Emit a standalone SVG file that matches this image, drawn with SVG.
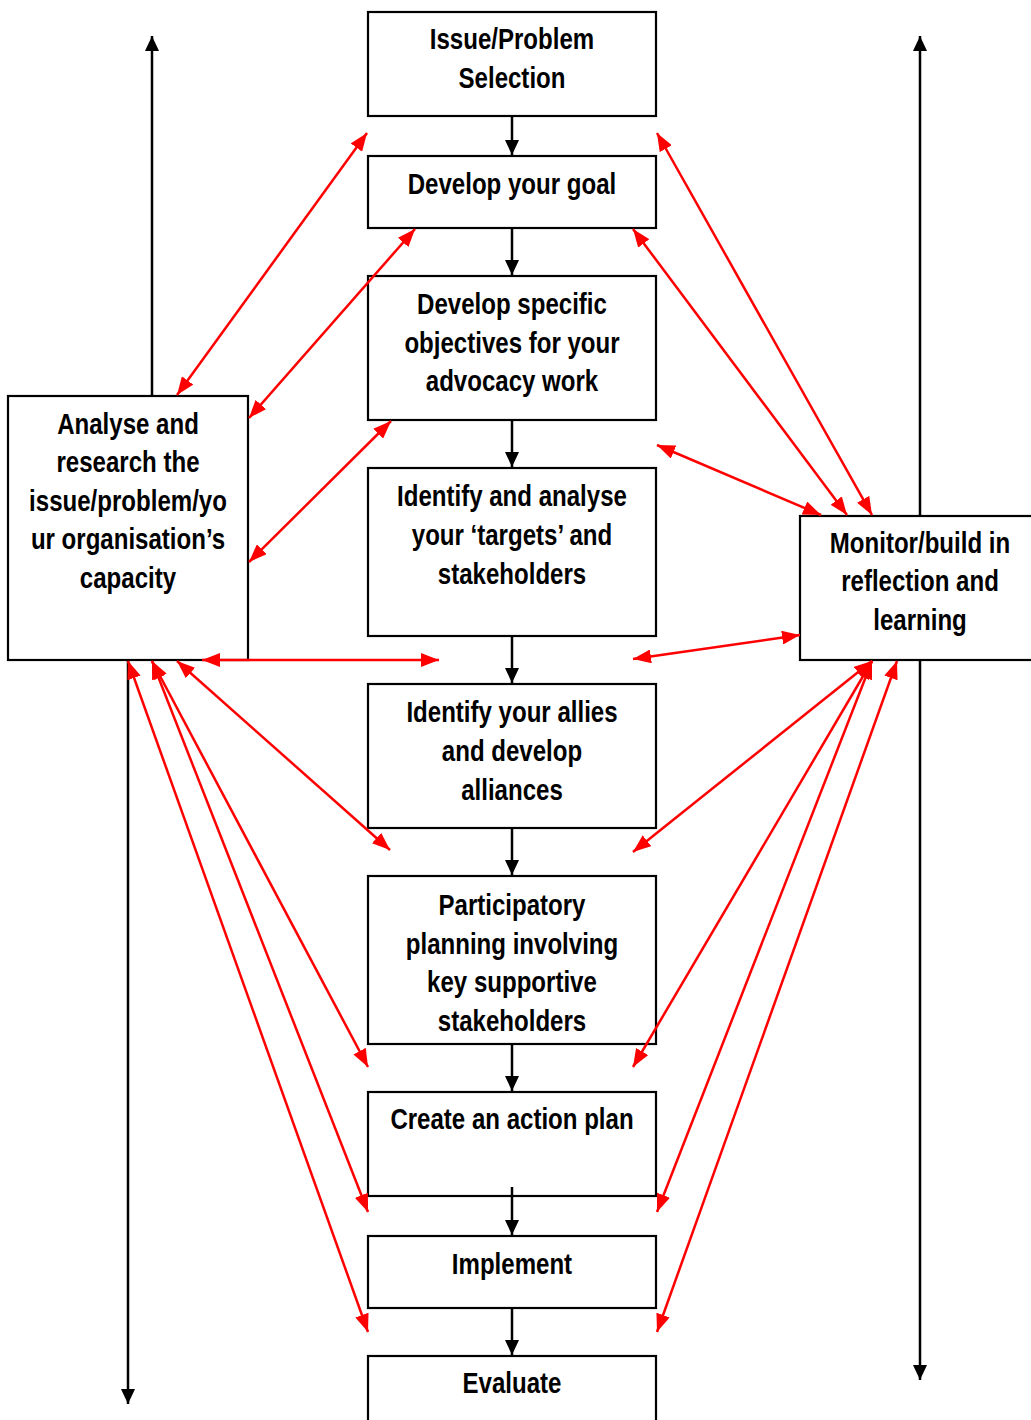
<svg xmlns="http://www.w3.org/2000/svg" width="1031" height="1420" viewBox="0 0 1031 1420">
<style>
.box{fill:#fff;stroke:#000;stroke-width:2.2}
.t{font-family:"Liberation Sans",Arial,sans-serif;font-weight:bold;font-size:29px;fill:#000;text-anchor:middle}
.blk{stroke:#000;stroke-width:2.5;fill:none;marker-end:url(#bh)}
.red{stroke:#f00;stroke-width:2.5;fill:none;marker-start:url(#rh);marker-end:url(#rh)}
</style>
<defs>
<marker id="bh" markerUnits="userSpaceOnUse" markerWidth="15" markerHeight="14" refX="15" refY="7" orient="auto"><path d="M0,0 L15,7 L0,14 z" fill="#000"/></marker>
<marker id="rh" markerUnits="userSpaceOnUse" markerWidth="18" markerHeight="14" refX="18" refY="7" orient="auto-start-reverse"><path d="M0,0 L18,7 L0,14 z" fill="#f00"/></marker>
</defs>
<rect width="1031" height="1420" fill="#fff"/>
<g id="n1"><rect class="box" x="368" y="12" width="288" height="104"/><g transform="translate(87.04,0) scale(0.83,1)"><text class="t" x="512" y="49">Issue/Problem</text><text class="t" x="512" y="88">Selection</text></g></g>
<g id="n2"><rect class="box" x="368" y="156" width="288" height="72"/><g transform="translate(87.04,0) scale(0.83,1)"><text class="t" x="512" y="194">Develop your goal</text></g></g>
<g id="n3"><rect class="box" x="368" y="276" width="288" height="144"/><g transform="translate(87.04,0) scale(0.83,1)"><text class="t" x="512" y="314">Develop specific</text><text class="t" x="512" y="353">objectives for your</text><text class="t" x="512" y="391">advocacy work</text></g></g>
<g id="n4"><rect class="box" x="368" y="468" width="288" height="168"/><g transform="translate(87.04,0) scale(0.83,1)"><text class="t" x="512" y="506">Identify and analyse</text><text class="t" x="512" y="545">your ‘targets’ and</text><text class="t" x="512" y="584">stakeholders</text></g></g>
<g id="n5"><rect class="box" x="368" y="684" width="288" height="144"/><g transform="translate(87.04,0) scale(0.83,1)"><text class="t" x="512" y="722">Identify your allies</text><text class="t" x="512" y="761">and develop</text><text class="t" x="512" y="800">alliances</text></g></g>
<g id="n6"><rect class="box" x="368" y="876" width="288" height="168"/><g transform="translate(87.04,0) scale(0.83,1)"><text class="t" x="512" y="915">Participatory</text><text class="t" x="512" y="954">planning involving</text><text class="t" x="512" y="992">key supportive</text><text class="t" x="512" y="1031">stakeholders</text></g></g>
<g id="n7"><rect class="box" x="368" y="1092" width="288" height="104"/><g transform="translate(87.04,0) scale(0.83,1)"><text class="t" x="512" y="1129">Create an action plan</text></g></g>
<g id="n8"><rect class="box" x="368" y="1236" width="288" height="72"/><g transform="translate(87.04,0) scale(0.83,1)"><text class="t" x="512" y="1274">Implement</text></g></g>
<g id="n9"><rect class="box" x="368" y="1356" width="288" height="100"/><g transform="translate(87.04,0) scale(0.83,1)"><text class="t" x="512" y="1393">Evaluate</text></g></g>
<g id="nL"><rect class="box" x="8" y="396" width="240" height="264"/><g transform="translate(21.76,0) scale(0.83,1)"><text class="t" x="128" y="434">Analyse and</text><text class="t" x="128" y="472">research the</text><text class="t" x="128" y="511">issue/problem/yo</text><text class="t" x="128" y="549">ur organisation’s</text><text class="t" x="128" y="588">capacity</text></g></g>
<g id="nR"><rect class="box" x="800" y="516" width="240" height="144"/><g transform="translate(156.4,0) scale(0.83,1)"><text class="t" x="920" y="553">Monitor/build in</text><text class="t" x="920" y="591">reflection and</text><text class="t" x="920" y="630">learning</text></g></g>
<g id="connectors">
<line class="blk" x1="512" y1="116" x2="512" y2="155"/>
<line class="blk" x1="512" y1="228" x2="512" y2="275"/>
<line class="blk" x1="512" y1="420" x2="512" y2="467"/>
<line class="blk" x1="512" y1="636" x2="512" y2="683"/>
<line class="blk" x1="512" y1="828" x2="512" y2="875"/>
<line class="blk" x1="512" y1="1044" x2="512" y2="1091"/>
<line class="blk" x1="512" y1="1187" x2="512" y2="1235"/>
<line class="blk" x1="512" y1="1308" x2="512" y2="1355"/>
<line class="blk" x1="152" y1="396" x2="152" y2="36"/>
<line class="blk" x1="128" y1="660" x2="128" y2="1404"/>
<line class="blk" x1="920" y1="516" x2="920" y2="36"/>
<line class="blk" x1="920" y1="660" x2="920" y2="1380"/>
<line class="red" x1="367" y1="133" x2="177" y2="395"/>
<line class="red" x1="415" y1="229" x2="249" y2="418"/>
<line class="red" x1="391" y1="421" x2="249" y2="562"/>
<line class="red" x1="202" y1="660" x2="439" y2="660"/>
<line class="red" x1="177" y1="661" x2="390" y2="850"/>
<line class="red" x1="152" y1="661" x2="368" y2="1067"/>
<line class="red" x1="152" y1="661" x2="368" y2="1212"/>
<line class="red" x1="128" y1="661" x2="368" y2="1332"/>
<line class="red" x1="657" y1="133" x2="872" y2="515"/>
<line class="red" x1="633" y1="229" x2="847" y2="515"/>
<line class="red" x1="657" y1="445" x2="821" y2="515"/>
<line class="red" x1="633" y1="659" x2="800" y2="635"/>
<line class="red" x1="872" y1="661" x2="633" y2="852"/>
<line class="red" x1="872" y1="661" x2="633" y2="1067"/>
<line class="red" x1="872" y1="661" x2="657" y2="1212"/>
<line class="red" x1="897" y1="661" x2="657" y2="1332"/>
</g>
</svg>
